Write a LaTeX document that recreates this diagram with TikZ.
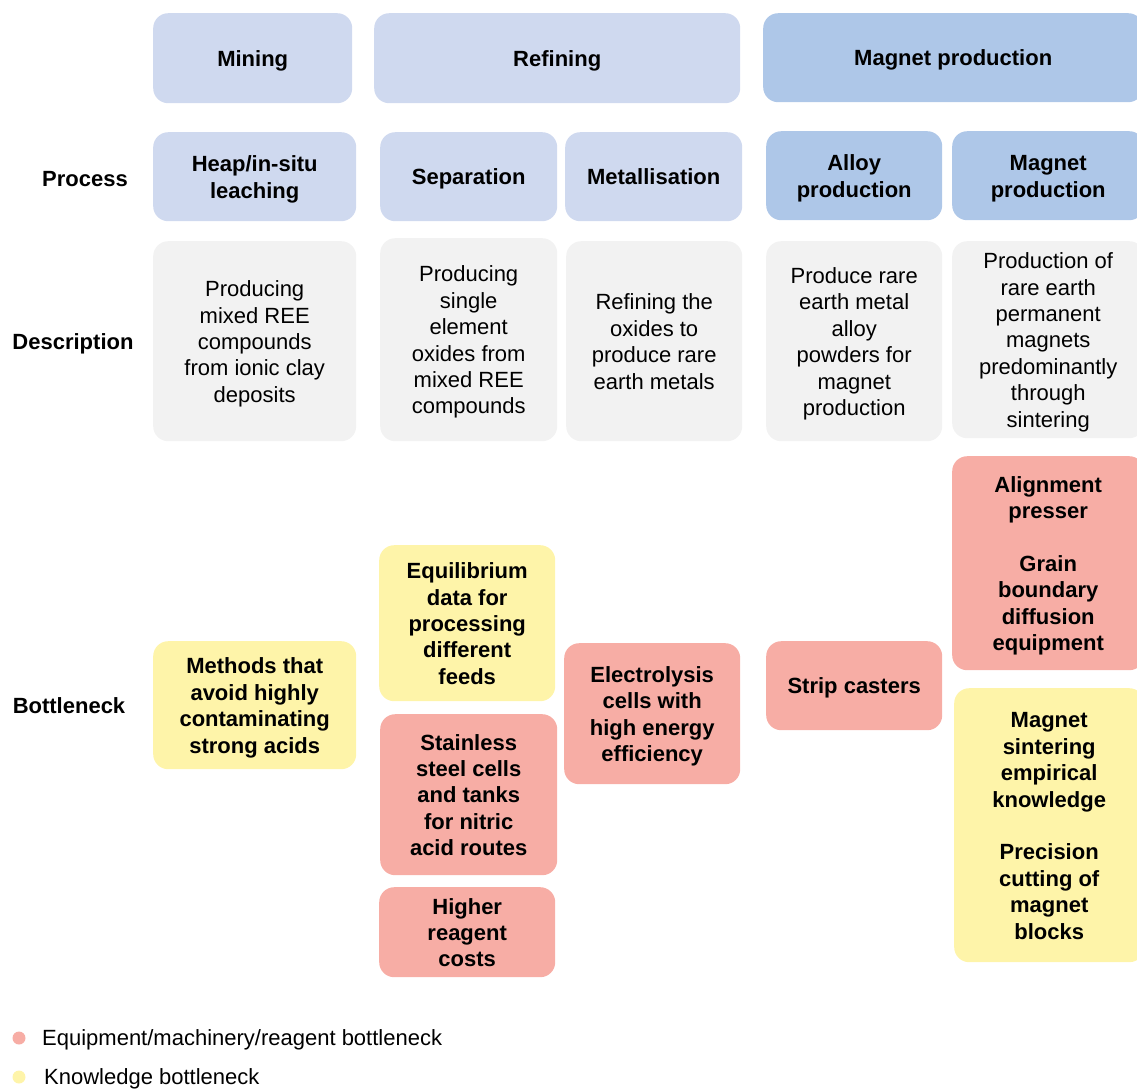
\documentclass[tikz,border=0pt]{standalone}
\usepackage{fontspec}
\setmainfont{Liberation Sans}
\definecolor{lblue}{HTML}{CFD9EF}
\definecolor{dblue}{HTML}{AEC7E8}
\definecolor{lgray}{HTML}{F2F2F2}
\definecolor{lred}{HTML}{F7ADA5}
\definecolor{lyel}{HTML}{FEF4A9}
\newcommand{\tx}[1]{\raisebox{-3pt}[\height][\depth]{\begin{tabular}{@{}c@{}}#1\end{tabular}}}
\tikzset{
  box/.style={rounded corners=15pt, inner sep=0pt, anchor=north west,
    font=\fontsize{22}{26.4}\selectfont},
  boldbox/.style={box, font=\fontsize{22}{26.4}\selectfont\bfseries},
  rowlabel/.style={font=\fontsize{22}{26.4}\selectfont\bfseries, inner sep=0pt},
  legtext/.style={font=\fontsize{22}{26.4}\selectfont, anchor=west, inner sep=0pt},
  legdot/.style={circle, minimum size=13pt, inner sep=0pt},
}
\begin{document}
\begin{tikzpicture}[x=1pt, y=-1pt]
\useasboundingbox (0,0) rectangle (1137,1088);
\clip (0,0) rectangle (1137,1088);
% headers
\node[boldbox, fill=lblue, minimum width=199pt, minimum height=90pt] (hmin) at (153,13) {\tx{Mining}};
\node[boldbox, fill=lblue, minimum width=366pt, minimum height=90pt] (href) at (374,13) {\tx{Refining}};
\node[boldbox, fill=dblue, minimum width=380pt, minimum height=89pt] (hmag) at (763,13) {\tx{Magnet production}};
% process
\node[boldbox, fill=lblue, minimum width=203pt, minimum height=89pt] (pheap) at (153,132) {\tx{Heap/in-situ\\leaching}};
\node[boldbox, fill=lblue, minimum width=177pt, minimum height=89pt] (psep) at (380,132) {\tx{Separation}};
\node[boldbox, fill=lblue, minimum width=177pt, minimum height=89pt] (pmet) at (565,132) {\tx{Metallisation}};
\node[boldbox, fill=dblue, minimum width=176pt, minimum height=89pt] (palloy) at (766,131) {\tx{Alloy\\production}};
\node[boldbox, fill=dblue, minimum width=192pt, minimum height=89pt] (pmag) at (952,131) {\tx{Magnet\\production}};
% descriptions
\node[box, fill=lgray, minimum width=203pt, minimum height=200pt] (dheap) at (153,241) {\tx{Producing\\mixed REE\\compounds\\from ionic clay\\deposits}};
\node[box, fill=lgray, minimum width=177pt, minimum height=203pt] (dsep) at (380,238) {\tx{Producing\\single\\element\\oxides from\\mixed REE\\compounds}};
\node[box, fill=lgray, minimum width=176pt, minimum height=200pt] (dmet) at (566,241) {\tx{Refining the\\oxides to\\produce rare\\earth metals}};
\node[box, fill=lgray, minimum width=176pt, minimum height=200pt] (dalloy) at (766,241) {\tx{Produce rare\\earth metal\\alloy\\powders for\\magnet\\production}};
\node[box, fill=lgray, minimum width=192pt, minimum height=197pt] (dmag) at (952,241) {\tx{Production of\\rare earth\\permanent\\magnets\\predominantly\\through\\sintering}};
% bottlenecks
\node[boldbox, fill=lyel, minimum width=203pt, minimum height=128pt] (bmeth) at (153,641) {\tx{Methods that\\avoid highly\\contaminating\\strong acids}};
\node[boldbox, fill=lyel, minimum width=176pt, minimum height=156pt] (bequ) at (379,545) {\tx{Equilibrium\\data for\\processing\\different\\feeds}};
\node[boldbox, fill=lred, minimum width=177pt, minimum height=161pt] (bsta) at (380,714) {\tx{Stainless\\steel cells\\and tanks\\for nitric\\acid routes}};
\node[boldbox, fill=lred, minimum width=176pt, minimum height=90pt] (bhig) at (379,887) {\tx{Higher\\reagent\\costs}};
\node[boldbox, fill=lred, minimum width=176pt, minimum height=141pt] (bele) at (564,643) {\tx{Electrolysis\\cells with\\high energy\\efficiency}};
\node[boldbox, fill=lred, minimum width=176pt, minimum height=89pt] (bstrip) at (766,641) {\tx{Strip casters}};
\node[boldbox, fill=lred, minimum width=192pt, minimum height=214pt] (balign) at (952,456) {\tx{Alignment\\presser\\ \\Grain\\boundary\\diffusion\\equipment}};
\node[boldbox, fill=lyel, minimum width=190pt, minimum height=274pt] (bsint) at (954,688) {\tx{Magnet\\sintering\\empirical\\knowledge\\ \\Precision\\cutting of\\magnet\\blocks}};
% row labels
\node[rowlabel] (lproc) at (85,179) {Process};
\node[rowlabel] (ldesc) at (73,344) {Description};
\node[rowlabel] (lbott) at (69,706) {Bottleneck};
% legend
\node[legdot, fill=lred] (cred) at (19,1038) {};
\node[legtext] (tred) at (42,1040) {Equipment/machinery/reagent bottleneck};
\node[legdot, fill=lyel] (cyel) at (19,1077) {};
\node[legtext] (tyel) at (44,1079) {Knowledge bottleneck};
\end{tikzpicture}
\end{document}
